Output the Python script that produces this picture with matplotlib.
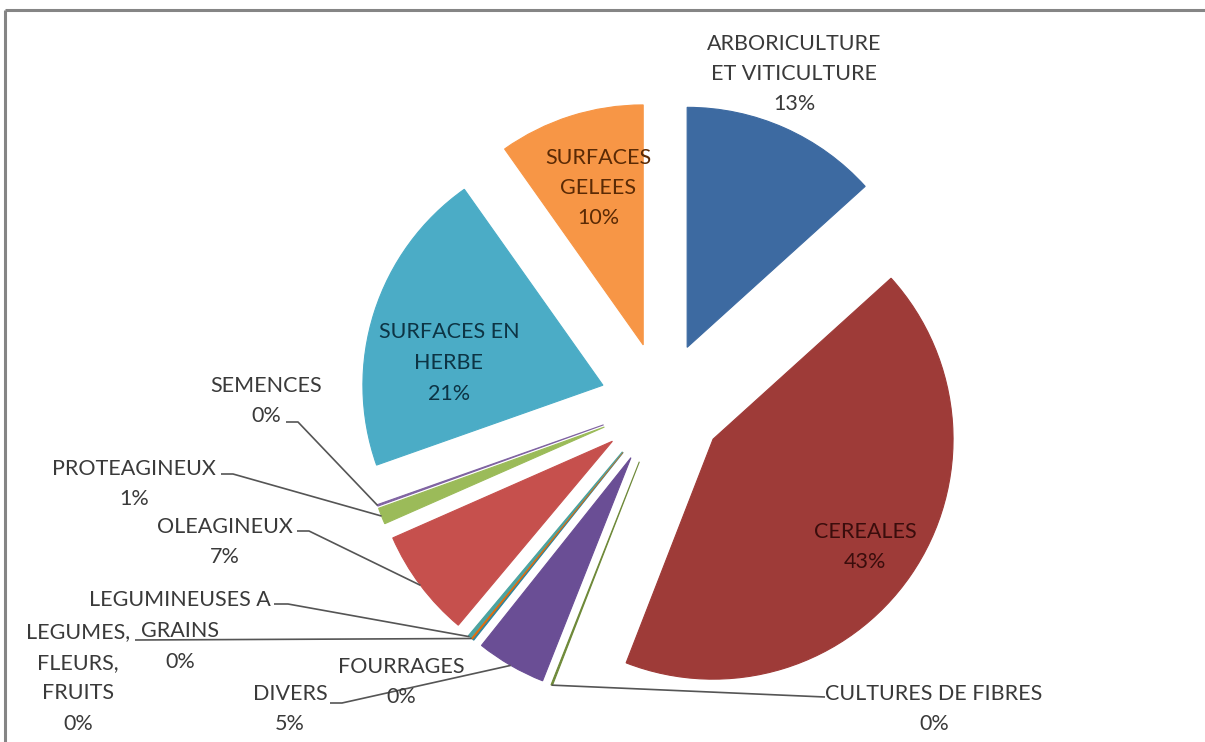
import matplotlib
matplotlib.use("Agg")
import matplotlib.pyplot as plt
import numpy as np

plt.rcParams['font.family'] = ['Lato', 'DejaVu Sans']

categories = ['ARBORICULTURE\nET VITICULTURE', 'CEREALES', 'CULTURES DE FIBRES', 'DIVERS',
              'FOURRAGES', 'LEGUMES,\nFLEURS,\nFRUITS', 'LEGUMINEUSES A\nGRAINS', 'OLEAGINEUX',
              'PROTEAGINEUX', 'SEMENCES', 'SURFACES EN\nHERBE', 'SURFACES\nGELEES']
shares = [13.3, 42.6, 0.1, 4.7, 0.1, 0.1, 0.2, 7.3, 1.1, 0.1, 20.6, 9.8]
colors = ['#3D6AA1', '#9E3B38', '#6F8A3A', '#6A4E95', '#31859C', '#E46C0A',
          '#4BA3A0', '#C6504D', '#9BBB59', '#8064A2', '#4BACC6', '#F79646']

# label placement: (x, y) text centre, leader anchor or None, stub length, text colour
layout = {
    0: ((794, 74), None, 0, '#3a3a3a'),
    1: ((865, 547), None, 0, '#3a0d0c'),
    2: ((934, 709), (825, 697), 0, '#3a3a3a'),
    3: ((290, 709), (330, 703), 12, '#3a3a3a'),
    4: ((401, 682), None, 0, '#3a3a3a'),
    5: ((78, 678), (135, 640), 0, '#3a3a3a'),
    6: ((180, 631), (274, 604), 14, '#3a3a3a'),
    7: ((225, 542), (297, 531), 12, '#3a3a3a'),
    8: ((134, 484), (221, 474), 12, '#3a3a3a'),
    9: ((266, 401), (286, 422), 12, '#3a3a3a'),
    10: ((449, 363), None, 0, '#0d3444'),
    11: ((598, 188), None, 0, '#5a2a05'),
}
line_step = 30.5

fig = plt.figure(figsize=(12.05, 7.42), dpi=100)
ax = fig.add_axes([0, 0, 1, 1])

cx, cy, rad = 662, 404, 240
wedges, _ = ax.pie(shares, colors=colors, radius=rad, center=(cx, cy), startangle=-90,
                   counterclock=True, explode=[62] * len(shares), frame=True,
                   wedgeprops=dict(linewidth=0.8))
for w, c in zip(wedges, colors):
    w.set_edgecolor(c)

ax.set_xlim(0, 1205)
ax.set_ylim(742, 0)
ax.set_aspect('auto')
ax.axis('off')

for i, w in enumerate(wedges):
    (tx, ty), anchor, stub, tcol = layout[i]
    lines = categories[i].split('\n') + ['{:.0f}%'.format(shares[i])]
    n = len(lines)
    for k, s in enumerate(lines):
        ax.text(tx, ty + (k - (n - 1) / 2) * line_step, s, ha='center', va='center',
                fontsize=15.5, color=tcol)
    if anchor is not None:
        mid = np.deg2rad((w.theta1 + w.theta2) / 2)
        wx = w.center[0] + w.r * np.cos(mid)
        wy = w.center[1] + w.r * np.sin(mid)
        ax.plot([anchor[0], anchor[0] + stub, wx], [anchor[1], anchor[1], wy],
                color='#555555', lw=1.2, solid_capstyle='butt')

# chart frame
ax.plot([5, 1210], [10, 10], color='#858585', lw=2.2, solid_capstyle='butt')
ax.plot([5, 5], [10, 750], color='#858585', lw=2.2, solid_capstyle='butt')

fig.savefig('out.png', dpi=100)
